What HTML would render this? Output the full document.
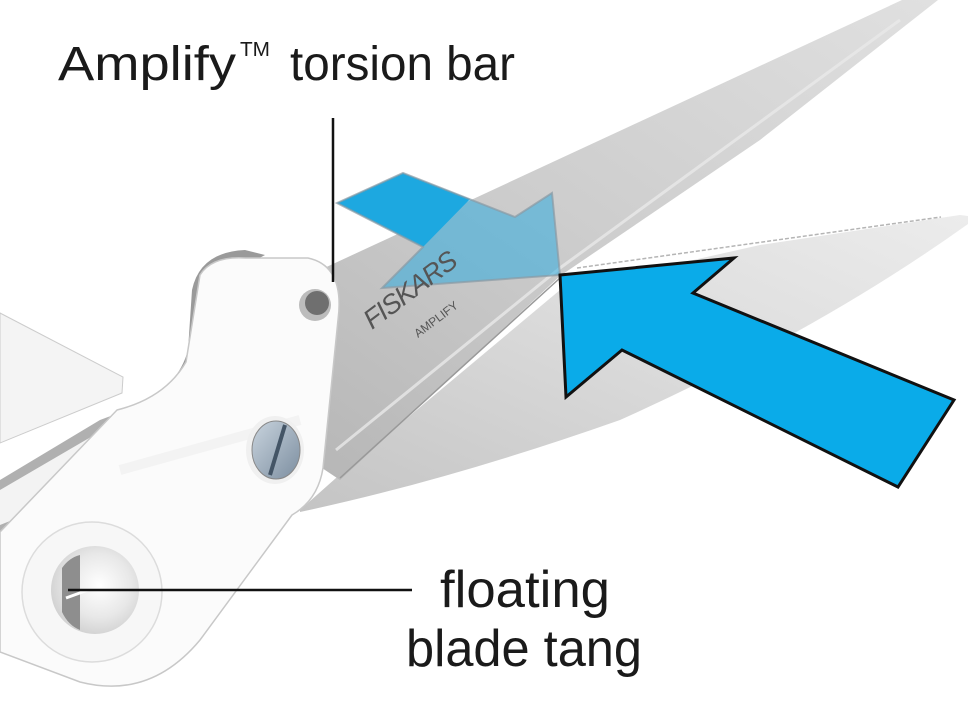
<!DOCTYPE html>
<html><head><meta charset="utf-8"><style>
html,body{margin:0;padding:0;background:#fff;}
svg{display:block;}
</style></head><body>
<svg width="968" height="706" viewBox="0 0 968 706" xmlns="http://www.w3.org/2000/svg">
<defs>
<linearGradient id="ub" x1="0" y1="1" x2="1" y2="0">
<stop offset="0" stop-color="#b4b4b4"/><stop offset="0.5" stop-color="#cdcdcd"/><stop offset="1" stop-color="#e0e0e0"/>
</linearGradient>
<linearGradient id="lb" x1="0" y1="1" x2="1" y2="0">
<stop offset="0" stop-color="#c4c4c4"/><stop offset="0.6" stop-color="#dedede"/><stop offset="1" stop-color="#ececec"/>
</linearGradient>
<radialGradient id="hole" cx="0.55" cy="0.45" r="0.6">
<stop offset="0" stop-color="#ffffff"/><stop offset="0.6" stop-color="#e8e8e8"/><stop offset="1" stop-color="#cfcfcf"/>
</radialGradient>
<linearGradient id="screw" x1="0" y1="0" x2="1" y2="1">
<stop offset="0" stop-color="#c9d4de"/><stop offset="1" stop-color="#7c8ea0"/>
</linearGradient>
</defs>

<path d="M300,510 L345,470 L560,290 L760,245 L960,215 L968,216 L968,224 Q820,330 620,420 Q450,480 300,512 Z" fill="url(#lb)"/>
<path d="M577,268 L941,217" stroke="#b5b5b5" stroke-width="1.5" stroke-dasharray="4 2" fill="none"/>

<path d="M250,300 L320,270 L902,0 L938,0 L760,140 L560,276 L340,480 L250,420 Z" fill="url(#ub)"/>
<path d="M336,450 L560,268 L900,20" stroke="#e8e8e8" stroke-width="3" fill="none" opacity="0.8"/>
<path d="M340,478 L560,278" stroke="#999" stroke-width="1.5" fill="none"/>

<path d="M337,203 L403,173 L470,199 L423,247 Z" fill="#1aa8e0"/>
<path d="M337,203 L403,173 L515,217 L552,193 L560,275 L382,288 L423,247 Z" fill="#20a8e0" fill-opacity="0.5" stroke="#8a9aa4" stroke-width="2" stroke-opacity="0.7"/>

<text x="0" y="0" transform="translate(372,330) rotate(-37)" font-family="Liberation Sans, sans-serif" font-size="27" fill="#555" font-style="italic" letter-spacing="-1">FISKARS</text>
<text x="0" y="0" transform="translate(418,338) rotate(-37)" font-family="Liberation Sans, sans-serif" font-size="12" fill="#555">AMPLIFY</text>

<path d="M560,275 L734,258 L693,293 L954,400 L898,487 L622,350 L566,397 Z" fill="#0aabe9" stroke="#111" stroke-width="3" stroke-linejoin="miter"/>

<path d="M0,313 L123,377 L122,393 L0,443 Z" fill="#f4f4f4" stroke="#ccc" stroke-width="1"/>
<path d="M0,480 L100,420 L140,405 L40,520 L0,540 Z" fill="#b0b0b0"/>
<path d="M0,490 L120,420 L50,505 L0,525 Z" fill="#f3f3f3"/>
<path d="M192,290 Q200,252 245,250 L265,255 L210,285 L198,365 Q185,400 150,410 L118,415 L150,400 Q180,380 188,350 Z" fill="#9a9a9a"/>

<path d="M200,275 Q212,256 245,258 L308,258 Q345,266 338,320 L323,468 Q318,500 292,515 L200,640 Q150,700 80,682 L0,652 L0,532 L117,410 Q165,398 186,362 Z" fill="#fbfbfb" stroke="#c8c8c8" stroke-width="1.5"/>
<path d="M120,470 L300,420" stroke="#efefef" stroke-width="10" fill="none" opacity="0.6"/>

<circle cx="92" cy="592" r="70" fill="#f7f7f7" stroke="#dcdcdc" stroke-width="1.5"/>
<circle cx="95" cy="590" r="44" fill="url(#hole)"/>
<path d="M62,568 A32,40 0 0 1 80,555 L80,630 A32,40 0 0 1 62,612 Z" fill="#8e8e8e"/>
<path d="M66,598 L88,590" stroke="#fff" stroke-width="3"/>

<circle cx="315" cy="305" r="16" fill="#bcbcbc"/>
<circle cx="317" cy="303" r="12" fill="#6f6f6f"/>

<ellipse cx="275" cy="450" rx="29" ry="34" fill="#f0f0f0"/>
<ellipse cx="276" cy="450" rx="24" ry="29" fill="url(#screw)" stroke="#888" stroke-width="1"/>
<path d="M285,425 L270,475" stroke="#445566" stroke-width="4"/>

<line x1="333" y1="118" x2="333" y2="282" stroke="#111" stroke-width="2.5"/>
<line x1="68" y1="590" x2="412" y2="590" stroke="#111" stroke-width="2.5"/>

<text x="58" y="80" font-family="Liberation Sans, sans-serif" font-size="48" fill="#1a1a1a" textLength="178" lengthAdjust="spacingAndGlyphs">Amplify</text>
<text x="240" y="56" font-family="Liberation Sans, sans-serif" font-size="20" fill="#1a1a1a" textLength="30" lengthAdjust="spacingAndGlyphs">TM</text>
<text x="290" y="80" font-family="Liberation Sans, sans-serif" font-size="48" fill="#1a1a1a" textLength="225" lengthAdjust="spacingAndGlyphs">torsion bar</text>
<text x="440" y="607" font-family="Liberation Sans, sans-serif" font-size="52" fill="#1a1a1a" textLength="170" lengthAdjust="spacingAndGlyphs">floating</text>
<text x="406" y="666" font-family="Liberation Sans, sans-serif" font-size="52" fill="#1a1a1a" textLength="236" lengthAdjust="spacingAndGlyphs">blade tang</text>
</svg>
</body></html>
